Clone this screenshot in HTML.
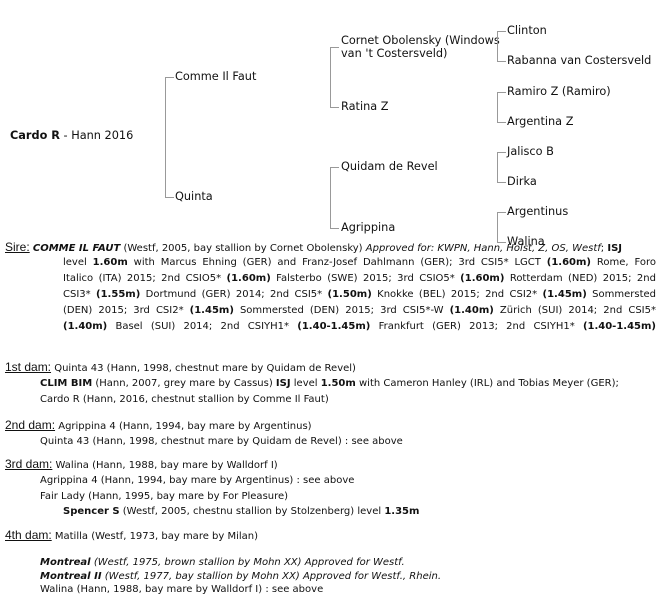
<!DOCTYPE html>
<html><head><meta charset="utf-8"><style>
body{margin:0;width:670px;height:612px;background:#fff;position:relative;overflow:hidden;font-family:"DejaVu Sans","Liberation Sans",sans-serif;color:#111}
.t{position:absolute;font-size:11.3px;line-height:13px;white-space:nowrap}
.l{position:absolute;background:#999}
.b{position:absolute;font-size:10px;line-height:13px;white-space:nowrap}
.h{font-family:"Liberation Sans",sans-serif;font-size:12px;text-decoration:underline}
.p{position:absolute;left:63px;width:593px;font-size:10px;line-height:13px;text-align:justify;text-align-last:justify;white-space:nowrap}
</style></head><body>
<div class="t" style="left:10px;top:129px"><b>Cardo R</b> - Hann 2016</div>
<div class="l" style="left:165px;top:77px;width:1px;height:121px"></div>
<div class="l" style="left:165px;top:77px;width:9px;height:1px"></div>
<div class="l" style="left:165px;top:197px;width:9px;height:1px"></div>
<div class="t" style="left:175px;top:70px">Comme Il Faut</div>
<div class="t" style="left:175px;top:190px">Quinta</div>
<div class="l" style="left:330px;top:47px;width:1px;height:61px"></div>
<div class="l" style="left:330px;top:47px;width:9px;height:1px"></div>
<div class="l" style="left:330px;top:107px;width:9px;height:1px"></div>
<div class="l" style="left:330px;top:167px;width:1px;height:62px"></div>
<div class="l" style="left:330px;top:167px;width:9px;height:1px"></div>
<div class="l" style="left:330px;top:228px;width:9px;height:1px"></div>
<div class="t" style="left:341px;top:34px">Cornet Obolensky (Windows<br>van 't Costersveld)</div>
<div class="t" style="left:341px;top:100px">Ratina Z</div>
<div class="t" style="left:341px;top:160px">Quidam de Revel</div>
<div class="t" style="left:341px;top:221px">Agrippina</div>
<div class="l" style="left:497px;top:31px;width:1px;height:31px"></div>
<div class="l" style="left:497px;top:92px;width:1px;height:31px"></div>
<div class="l" style="left:497px;top:152px;width:1px;height:31px"></div>
<div class="l" style="left:497px;top:212px;width:1px;height:31px"></div>
<div class="l" style="left:497px;top:31px;width:9px;height:1px"></div>
<div class="l" style="left:497px;top:61px;width:9px;height:1px"></div>
<div class="l" style="left:497px;top:92px;width:9px;height:1px"></div>
<div class="l" style="left:497px;top:122px;width:9px;height:1px"></div>
<div class="l" style="left:497px;top:152px;width:9px;height:1px"></div>
<div class="l" style="left:497px;top:182px;width:9px;height:1px"></div>
<div class="l" style="left:497px;top:212px;width:9px;height:1px"></div>
<div class="l" style="left:497px;top:242px;width:9px;height:1px"></div>
<div class="t" style="left:507px;top:24px">Clinton</div>
<div class="t" style="left:507px;top:54px">Rabanna van Costersveld</div>
<div class="t" style="left:507px;top:85px">Ramiro Z (Ramiro)</div>
<div class="t" style="left:507px;top:115px">Argentina Z</div>
<div class="t" style="left:507px;top:145px">Jalisco B</div>
<div class="t" style="left:507px;top:175px">Dirka</div>
<div class="t" style="left:507px;top:205px">Argentinus</div>
<div class="t" style="left:507px;top:235px">Walina</div>

<div class="b" style="left:5px;top:241px"><span class="h">Sire:</span> <b><i>COMME IL FAUT</i></b> (Westf, 2005, bay stallion by Cornet Obolensky) <i>Approved for: KWPN, Hann, Holst, Z, OS, Westf</i>; <b>ISJ</b></div>
<div class="p" style="top:256px">level <b>1.60m</b> with Marcus Ehning (GER) and Franz-Josef Dahlmann (GER); 3rd CSI5* LGCT <b>(1.60m)</b> Rome, Foro</div>
<div class="p" style="top:272px">Italico (ITA) 2015; 2nd CSIO5* <b>(1.60m)</b> Falsterbo (SWE) 2015; 3rd CSIO5* <b>(1.60m)</b> Rotterdam (NED) 2015; 2nd</div>
<div class="p" style="top:288px">CSI3* <b>(1.55m)</b> Dortmund (GER) 2014; 2nd CSI5* <b>(1.50m)</b> Knokke (BEL) 2015; 2nd CSI2* <b>(1.45m)</b> Sommersted</div>
<div class="p" style="top:304px">(DEN) 2015; 3rd CSI2* <b>(1.45m)</b> Sommersted (DEN) 2015; 3rd CSI5*-W <b>(1.40m)</b> Zürich (SUI) 2014; 2nd CSI5*</div>
<div class="p" style="top:320px"><b>(1.40m)</b> Basel (SUI) 2014; 2nd CSIYH1* <b>(1.40-1.45m)</b> Frankfurt (GER) 2013; 2nd CSIYH1* <b>(1.40-1.45m)</b></div>

<div class="b" style="left:5px;top:361px"><span class="h">1st dam:</span> Quinta 43 (Hann, 1998, chestnut mare by Quidam de Revel)</div>
<div class="b" style="left:40px;top:377px"><b>CLIM BIM</b> (Hann, 2007, grey mare by Cassus) <b>ISJ</b> level <b>1.50m</b> with Cameron Hanley (IRL) and Tobias Meyer (GER);</div>
<div class="b" style="left:40px;top:393px">Cardo R (Hann, 2016, chestnut stallion by Comme Il Faut)</div>

<div class="b" style="left:5px;top:419px"><span class="h">2nd dam:</span> Agrippina 4 (Hann, 1994, bay mare by Argentinus)</div>
<div class="b" style="left:40px;top:435px">Quinta 43 (Hann, 1998, chestnut mare by Quidam de Revel) : see above</div>

<div class="b" style="left:5px;top:458px"><span class="h">3rd dam:</span> Walina (Hann, 1988, bay mare by Walldorf I)</div>
<div class="b" style="left:40px;top:474px">Agrippina 4 (Hann, 1994, bay mare by Argentinus) : see above</div>
<div class="b" style="left:40px;top:490px">Fair Lady (Hann, 1995, bay mare by For Pleasure)</div>
<div class="b" style="left:63px;top:505px"><b>Spencer S</b> (Westf, 2005, chestnu stallion by Stolzenberg) level <b>1.35m</b></div>

<div class="b" style="left:5px;top:529px"><span class="h">4th dam:</span> Matilla (Westf, 1973, bay mare by Milan)</div>
<div class="b" style="left:40px;top:556px"><b><i>Montreal</i></b> <i>(Westf, 1975, brown stallion by Mohn XX) Approved for Westf.</i></div>
<div class="b" style="left:40px;top:570px"><b><i>Montreal II</i></b> <i>(Westf, 1977, bay stallion by Mohn XX) Approved for Westf., Rhein.</i></div>
<div class="b" style="left:40px;top:583px">Walina (Hann, 1988, bay mare by Walldorf I) : see above</div>
</body></html>
